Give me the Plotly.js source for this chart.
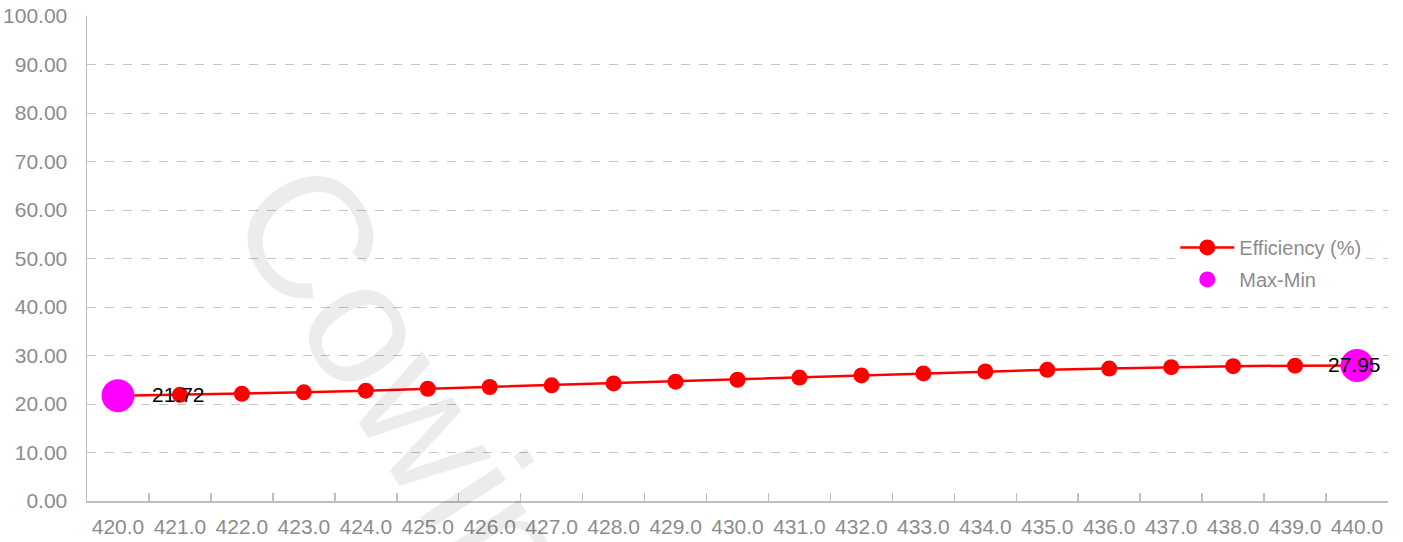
<!DOCTYPE html>
<html>
<head>
<meta charset="utf-8">
<script src="https://cdn.plot.ly/plotly-3.0.1.min.js"></script>
<style>html,body{margin:0;padding:0;background:#fff;}#chart{width:1403px;height:542px;}</style>
</head>
<body>
<div id="chart"></div>
<script>
var categories = ['420.0','421.0','422.0','423.0','424.0','425.0','426.0','427.0','428.0','429.0','430.0','431.0','432.0','433.0','434.0','435.0','436.0','437.0','438.0','439.0','440.0'];
var efficiency = [21.72,21.90,22.10,22.40,22.75,23.15,23.50,23.85,24.25,24.60,25.00,25.45,25.90,26.30,26.70,27.05,27.30,27.60,27.80,27.90,27.95];
var maxMinCats = ['420.0','440.0'];
var maxMinVals = [21.72,27.95];
var maxMinLabels = ['21.72','27.95'];

var grey = '#8c8c8c';
var traces = [
  {
    type: 'scatter', mode: 'lines+markers', name: 'Efficiency (%)', legendgroup: 'a',
    x: categories, y: efficiency,
    line: {color: '#ff0000', width: 2.5},
    marker: {color: '#ff0000', size: 16}
  },
  {
    type: 'scatter', mode: 'markers', name: 'Max-Min', legendgroup: 'b',
    x: maxMinCats, y: maxMinVals,
    marker: {color: '#ff00ff', size: 33},
    cliponaxis: false
  }
];

var labelShifts = [61, -3];
var annotations = maxMinCats.map(function (c, i) {
  return {
    xref: 'x', yref: 'y', x: categories.indexOf(c), y: maxMinVals[i], text: maxMinLabels[i],
    showarrow: false, xanchor: 'center', yanchor: 'middle', xshift: labelShifts[i], yshift: 1,
    font: {family: 'Liberation Sans, Arial, sans-serif', size: 21, color: '#000000'}
  };
});
annotations.push({
  xref: 'paper', yref: 'paper', x: 0.245, y: 0.24,
  xanchor: 'center', yanchor: 'middle',
  text: 'Cowin', showarrow: false, textangle: 57,
  font: {family: 'Liberation Sans, Arial, sans-serif', size: 175, color: 'rgba(0,0,0,0.075)'}
});

var layout = {
  width: 1403, height: 542,
  margin: {l: 87, r: 15, t: 16, b: 41},
  paper_bgcolor: '#ffffff', plot_bgcolor: '#ffffff',
  font: {family: 'Liberation Sans, Arial, sans-serif', size: 20, color: grey},
  showlegend: true,
  legend: {
    x: 0.8365, xanchor: 'left', y: 0.563, yanchor: 'top',
    bgcolor: '#ffffff', borderwidth: 0,
    font: {size: 20, color: grey},
    itemwidth: 54,
    traceorder: 'grouped', tracegroupgap: 3
  },
  xaxis: {
    type: 'category', range: [-0.5, 20.5], autorange: false,
    showgrid: false, zeroline: false,
    showline: true, linecolor: '#bfbfbf', linewidth: 1.5,
    ticks: 'inside', tickson: 'boundaries', ticklen: 8, tickcolor: '#bfbfbf', tickwidth: 1.5,
    tickangle: 0, ticklabelstandoff: 6,
    tickfont: {size: 21, color: grey},
    fixedrange: true
  },
  yaxis: {
    range: [0, 100], dtick: 10, tick0: 0, tickformat: '.2f',
    showgrid: true, gridcolor: '#c4c4c4', griddash: 'dash', gridwidth: 1,
    zeroline: false, showline: true, linecolor: '#bfbfbf', linewidth: 1.5,
    ticks: '', ticklabelstandoff: 14,
    tickfont: {size: 21, color: grey},
    fixedrange: true
  },
  annotations: annotations
};

Plotly.newPlot('chart', traces, layout, {displayModeBar: false, staticPlot: true});
</script>
</body>
</html>
